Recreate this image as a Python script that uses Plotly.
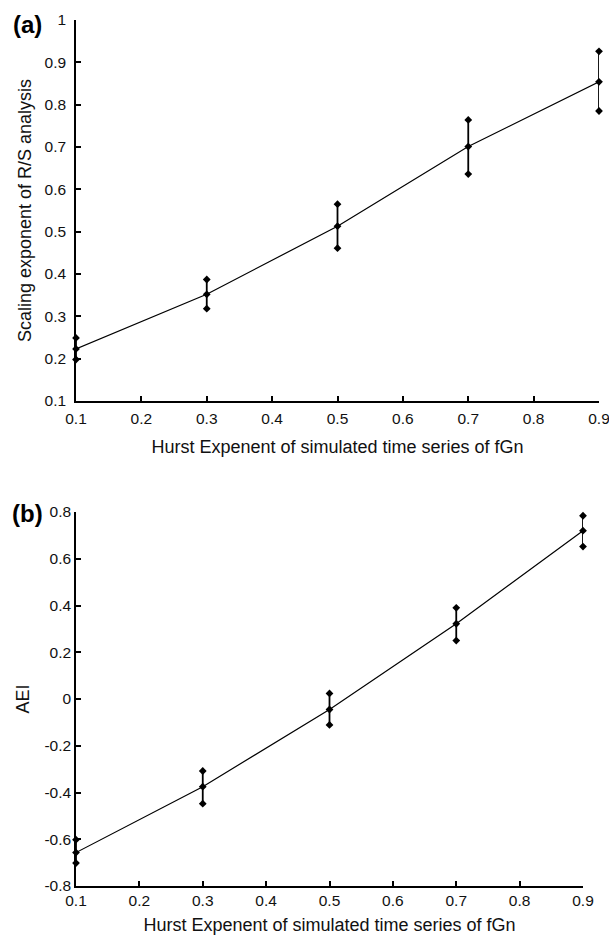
import plotly.graph_objects as go

# ---------------- data ----------------
hurst = [0.1, 0.3, 0.5, 0.7, 0.9]

rs_mean = [0.223, 0.352, 0.513, 0.701, 0.854]
rs_upper = [0.249, 0.387, 0.565, 0.764, 0.926]
rs_lower = [0.198, 0.318, 0.461, 0.636, 0.785]

aei_mean = [-0.657, -0.375, -0.045, 0.322, 0.720]
aei_upper = [-0.602, -0.308, 0.024, 0.390, 0.784]
aei_lower = [-0.702, -0.448, -0.111, 0.250, 0.652]

x_ticks = [0.1, 0.2, 0.3, 0.4, 0.5, 0.6, 0.7, 0.8, 0.9]
x_tick_labels = ["0.1", "0.2", "0.3", "0.4", "0.5", "0.6", "0.7", "0.8", "0.9"]
rs_ticks = [0.1, 0.2, 0.3, 0.4, 0.5, 0.6, 0.7, 0.8, 0.9, 1.0]
rs_tick_labels = ["0.1", "0.2", "0.3", "0.4", "0.5", "0.6", "0.7", "0.8", "0.9", "1"]
aei_ticks = [-0.8, -0.6, -0.4, -0.2, 0.0, 0.2, 0.4, 0.6, 0.8]
aei_tick_labels = ["-0.8", "-0.6", "-0.4", "-0.2", "0", "0.2", "0.4", "0.6", "0.8"]

x_title = "Hurst Expenent of simulated time series of fGn"
rs_title = "Scaling exponent of R/S analysis"
aei_title = "AEI"

# ---------------- figure ----------------
W, H = 609, 937
FONT = "Liberation Sans, Arial, Helvetica, sans-serif"
BLACK = "#000000"


def fx(p):  # page pixel x -> paper fraction
    return p / W


def fy(p):  # page pixel y (from top) -> paper fraction
    return 1 - p / H


fig = go.Figure()


def add_panel(mean, upper, lower, xa, ya):
    plus = [u - m for u, m in zip(upper, mean)]
    minus = [m - l for m, l in zip(mean, lower)]
    fig.add_trace(go.Scatter(
        x=hurst, y=mean, mode="lines+markers", xaxis=xa, yaxis=ya,
        line=dict(color=BLACK, width=1.2),
        marker=dict(symbol="diamond", size=6, color=BLACK),
        error_y=dict(type="data", array=plus, arrayminus=minus, symmetric=False,
                     color=BLACK, thickness=1.8, width=0),
        cliponaxis=False, showlegend=False, hoverinfo="x+y"))
    fig.add_trace(go.Scatter(
        x=hurst + hurst, y=upper + lower, mode="markers", xaxis=xa, yaxis=ya,
        marker=dict(symbol="diamond", size=6, color=BLACK),
        cliponaxis=False, showlegend=False, hoverinfo="x+y"))


add_panel(rs_mean, rs_upper, rs_lower, "x", "y")
add_panel(aei_mean, aei_upper, aei_lower, "x2", "y2")

axis_common = dict(
    showline=True, linecolor=BLACK, linewidth=1.5,
    ticks="inside", ticklen=5, tickwidth=1.5, tickcolor=BLACK,
    showgrid=False, zeroline=False, automargin=False,
    ticklabeloverflow="allow",
    tickfont=dict(family=FONT, size=15.5, color="#111111"),
)

fig.update_layout(
    width=W, height=H,
    margin=dict(l=0, r=0, t=0, b=0, pad=0),
    paper_bgcolor="white", plot_bgcolor="white",
    font=dict(family=FONT, color="#111111"),
    xaxis=dict(domain=[fx(76), fx(599)], anchor="y", range=[0.1, 0.9],
               tickvals=x_ticks, ticktext=x_tick_labels, ticklabelstandoff=3,
               title=dict(text=x_title, font=dict(size=18), standoff=14),
               **axis_common),
    yaxis=dict(domain=[fy(401), fy(20)], anchor="x", range=[0.1, 1.0],
               tickvals=rs_ticks, ticktext=rs_tick_labels, ticklabelstandoff=5,
               title=dict(text=rs_title, font=dict(size=18), standoff=8),
               **axis_common),
    xaxis2=dict(domain=[fx(76), fx(583)], anchor="y2", range=[0.1, 0.9],
                tickvals=x_ticks, ticktext=x_tick_labels,
                title=dict(text=x_title, font=dict(size=18), standoff=10),
                **axis_common),
    yaxis2=dict(domain=[fy(886), fy(512)], anchor="x2", range=[-0.8, 0.8],
                tickvals=aei_ticks, ticktext=aei_tick_labels,
                title=dict(text=aei_title, font=dict(size=18), standoff=10),
                **axis_common),
    annotations=[
        dict(text="<b>(a)</b>", x=fx(27), y=fy(25), xref="paper", yref="paper",
             showarrow=False, font=dict(family=FONT, size=24, color=BLACK),
             xanchor="center", yanchor="middle"),
        dict(text="<b>(b)</b>", x=fx(27), y=fy(513), xref="paper", yref="paper",
             showarrow=False, font=dict(family=FONT, size=24, color=BLACK),
             xanchor="center", yanchor="middle"),
    ],
)

fig.write_html(
    "out.html",
    config={"displayModeBar": False},
    post_script="document.body.style.margin='0px';document.body.style.overflow='hidden';",
)
